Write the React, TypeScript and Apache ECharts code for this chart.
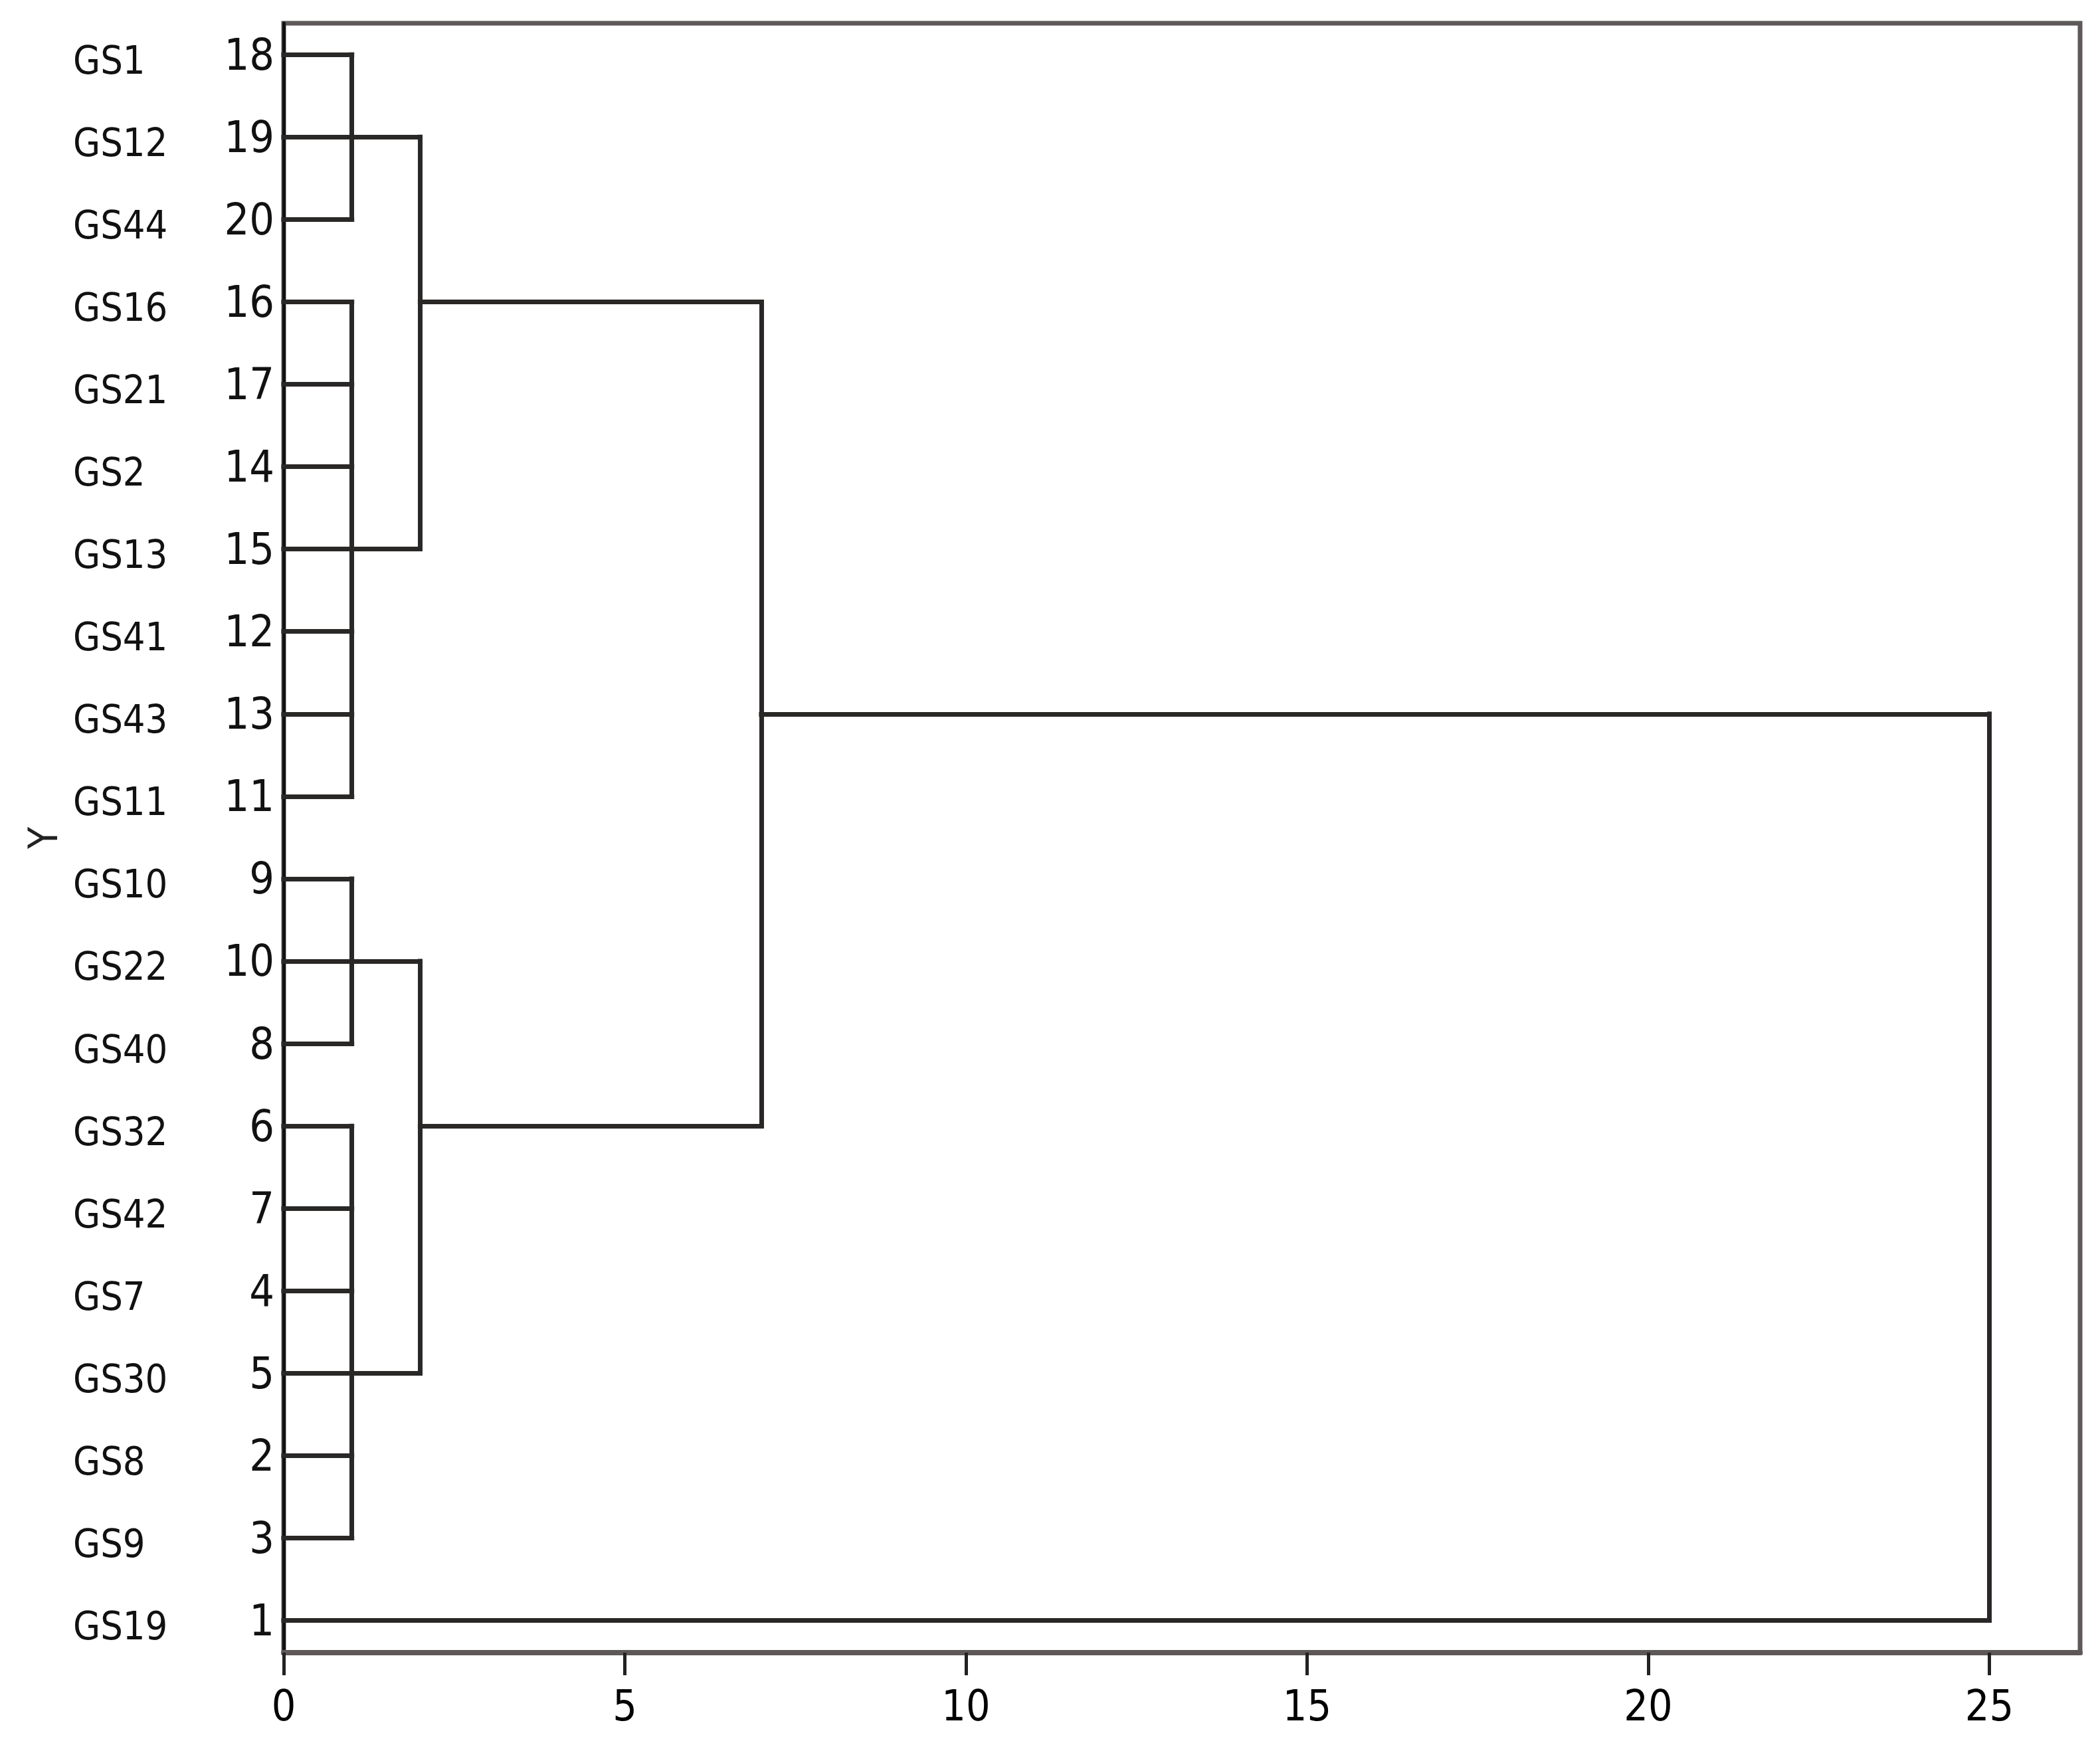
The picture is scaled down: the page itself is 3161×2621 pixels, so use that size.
import React, { useEffect, useRef } from "react";
import * as echarts from "echarts";

// Leaves, top to bottom
const leafNames = ["GS1", "GS12", "GS44", "GS16", "GS21", "GS2", "GS13", "GS41", "GS43", "GS11", "GS10", "GS22", "GS40", "GS32", "GS42", "GS7", "GS30", "GS8", "GS9", "GS19"];
const leafNumbers = ["18", "19", "20", "16", "17", "14", "15", "12", "13", "11", "9", "10", "8", "6", "7", "4", "5", "2", "3", "1"];
const xTickValues = [0, 5, 10, 15, 20, 25];

// Merges: child rows, where each child's branch starts on the x axis, and the joining distance
const mergeChildRows = [[0, 1, 2], [3, 4, 5, 6, 7, 8, 9], [1, 6], [10, 11, 12], [13, 14, 15, 16, 17, 18], [11, 16], [3, 13], [8, 19]];
const mergeChildStarts = [[0, 0, 0], [0, 0, 0, 0, 0, 0, 0], [1, 1], [0, 0, 0], [0, 0, 0, 0, 0, 0], [1, 1], [2, 2], [7, 0]];
const mergeHeights = [1, 1, 2, 1, 1, 2, 7, 25];

const FONT = "'Liberation Sans Narrow', 'Arial Narrow', 'DejaVu Sans Condensed', 'Liberation Sans', Arial, sans-serif";

export default function App() {
  const ref = useRef<HTMLDivElement>(null);
  useEffect(() => {
    document.body.style.margin = "0";
    if (!ref.current) return;
    const chart = echarts.init(ref.current, null, { renderer: "svg" });
    const segs: any[] = [];
    mergeChildRows.forEach((rows, i) => {
      const h = mergeHeights[i];
      rows.forEach((r, j) => {
        segs.push({ coords: [[mergeChildStarts[i][j], r], [h, r]] });
      });
      segs.push({ coords: [[h, Math.min(...rows)], [h, Math.max(...rows)]] });
    });
    const rowIdx = leafNames.map((_, i) => i);
    chart.setOption({
      animation: false,
      backgroundColor: "#ffffff",
      grid: {
        left: 427,
        right: 30,
        top: 35,
        bottom: 133,
        show: true,
        borderColor: "#5e5858",
        borderWidth: 7,
        containLabel: false,
      },
      xAxis: {
        type: "value",
        min: 0,
        max: 26.33,
        splitLine: { show: false },
        axisLine: { show: true, onZero: false, lineStyle: { color: "#5e5858", width: 8 } },
        axisTick: { show: true, customValues: xTickValues, length: 34, lineStyle: { color: "#222", width: 5 } },
        axisLabel: {
          customValues: xTickValues,
          margin: 48,
          fontSize: 64,
          color: "#000",
          fontFamily: FONT,
        },
      },
      yAxis: [
        {
          type: "value",
          inverse: true,
          min: -0.38,
          max: 19.39,
          position: "left",
          splitLine: { show: false },
          axisLine: { show: true, onZero: false, lineStyle: { color: "#111", width: 5 } },
          axisTick: { show: false },
          axisLabel: {
            customValues: rowIdx,
            formatter: (v: number) => leafNumbers[Math.round(v)] ?? "",
            margin: 14,
            fontSize: 66,
            color: "#111",
            fontFamily: FONT,
          },
          name: "Y",
          nameLocation: "middle",
          nameGap: 332,
          nameRotate: 90,
          nameTextStyle: { fontSize: 60, color: "#222", fontFamily: FONT },
        },
        {
          type: "value",
          inverse: true,
          min: -0.38,
          max: 19.39,
          position: "left",
          splitLine: { show: false },
          axisLine: { show: false },
          axisTick: { show: false },
          axisLabel: {
            customValues: rowIdx,
            formatter: (v: number) => "{a|" + (leafNames[Math.round(v)] ?? "") + "}",
            align: "left",
            margin: 317,
            rich: {
              a: {
                fontSize: 59,
                color: "#111",
                fontFamily: FONT,
                padding: [16, 0, 0, 0],
              },
            },
          },
        },
      ],
      series: [
        {
          type: "lines",
          coordinateSystem: "cartesian2d",
          xAxisIndex: 0,
          yAxisIndex: 0,
          silent: true,
          lineStyle: { color: "#2a2727", width: 7, opacity: 1, cap: "square" },
          data: segs,
        },
      ],
    });
    return () => chart.dispose();
  }, []);
  return <div ref={ref} style={{ width: 3161, height: 2621 }} />;
}
